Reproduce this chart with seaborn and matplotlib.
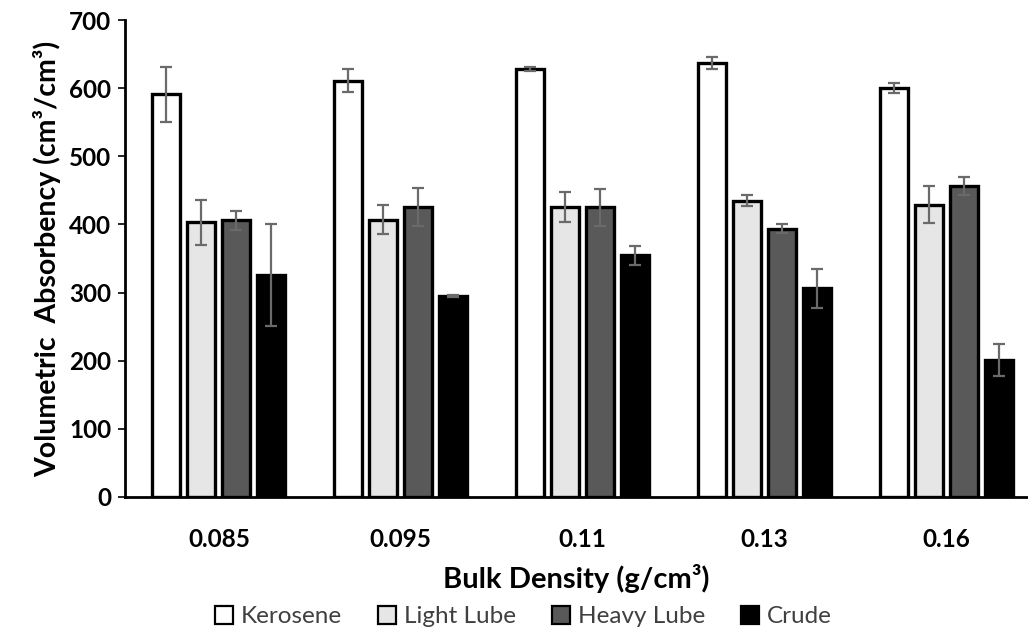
import matplotlib
matplotlib.use("Agg")
import matplotlib.pyplot as plt
import seaborn as sns
import pandas as pd
import numpy as np

densities = ["0.085", "0.095", "0.11", "0.13", "0.16"]
oils = ["Kerosene", "Light Lube", "Heavy Lube", "Crude"]

kerosene = [591, 611, 628, 637, 600]
light_lube = [403, 407, 425, 435, 429]
heavy_lube = [406, 426, 425, 394, 456]
crude = [326, 295, 355, 306, 201]

kerosene_err = [40, 17, 3, 9, 7]
light_lube_err = [33, 21, 22, 8, 27]
heavy_lube_err = [14, 28, 27, 7, 13]
crude_err = [75, 2, 14, 29, 24]

colors = ["#ffffff", "#e6e6e6", "#595959", "#000000"]

values = [kerosene, light_lube, heavy_lube, crude]
errors = [kerosene_err, light_lube_err, heavy_lube_err, crude_err]

df = pd.DataFrame({
    "density": [d for vals in values for d in densities],
    "oil": [o for o, vals in zip(oils, values) for _ in vals],
    "value": [v for vals in values for v in vals],
    "err": [e for errs in errors for e in errs],
})

sns.set_theme(style="white")
plt.rcParams["font.family"] = ["Lato", "DejaVu Sans"]

fig = plt.figure(figsize=(10.28, 6.33), dpi=100)
ax = fig.add_axes([0.1216, 0.2149, 0.8784, 0.7535])

sns.barplot(data=df, x="density", y="value", hue="oil", order=densities,
            hue_order=oils, palette=colors, width=0.77, gap=0.2,
            edgecolor="black", linewidth=2.4, errorbar=None, ax=ax,
            saturation=1)

# error bars placed on the bar centres produced by seaborn
for container, oil in zip(ax.containers, oils):
    sub = df[df["oil"] == oil].set_index("density").loc[densities]
    xs = [p.get_x() + p.get_width() / 2 for p in container.patches]
    ax.errorbar(xs, sub["value"].values, yerr=sub["err"].values, fmt="none",
                ecolor="#6a6a6a", elinewidth=1.6, capsize=4, capthick=1.6,
                zorder=5)

ax.set_ylim(0, 700)
ax.set_xlim(-0.516, 4.45)
ax.set_yticks(np.arange(0, 701, 100))
ax.tick_params(axis="y", which="major", left=True, length=5, width=1.2,
               color="black", labelsize=17.5, pad=5)
ax.tick_params(axis="x", bottom=False, labelsize=17.5, pad=16)
for lbl in ax.get_xticklabels() + ax.get_yticklabels():
    lbl.set_fontweight("bold")
    lbl.set_color("black")

for side in ["top", "right"]:
    ax.spines[side].set_visible(False)
for side in ["left", "bottom"]:
    ax.spines[side].set_color("black")
    ax.spines[side].set_linewidth(2)

ax.set_ylabel("Volumetric  Absorbency (cm³/cm³)", fontsize=20.5,
              fontweight="bold", color="black", labelpad=6)
ax.set_xlabel("Bulk Density (g/cm³)", fontsize=21, fontweight="bold",
              color="black", labelpad=10)

sns.move_legend(ax, "center", bbox_to_anchor=(0.509, 0.026),
                bbox_transform=fig.transFigure, ncol=4,
                frameon=False, title=None, fontsize=17.5, handlelength=0.75,
                handleheight=0.75, handletextpad=0.3, columnspacing=1.5)
for t in ax.get_legend().get_texts():
    t.set_color("#404040")
for h in ax.get_legend().legend_handles:
    h.set_linewidth(1.6)

fig.savefig("out.png", dpi=100)
